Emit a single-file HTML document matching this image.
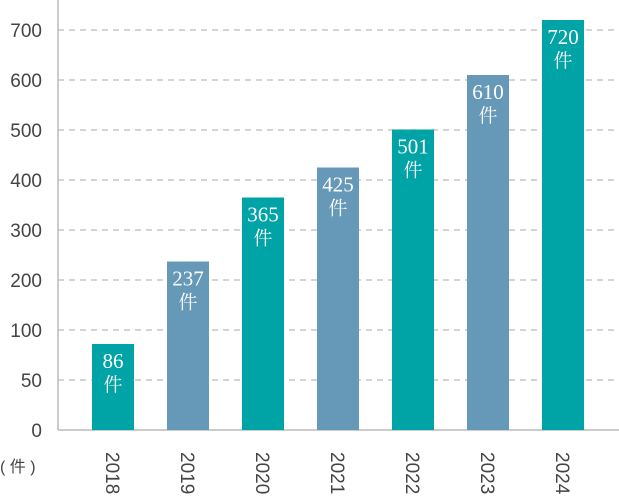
<!DOCTYPE html>
<html><head><meta charset="utf-8"><style>
body{margin:0;background:#fff;width:619px;height:504px;overflow:hidden}
svg{display:block}
</style></head><body>
<svg id="chart" width="619" height="504" xmlns="http://www.w3.org/2000/svg"></svg>
<script>
const categories=["2018","2019","2020","2021","2022","2023","2024"];
const values=[86,237,365,425,501,610,720];
const tickValues=[0,50,100,200,300,400,500,600,700];
const colors=["#00a3a6","#6699b8"];
const svg=document.getElementById('chart');
const NS="http://www.w3.org/2000/svg";
const base=430;
function y(v){return v<=100? base-v : base-100-(v-100)*0.5;}
function x(i){return 92+i*75;}
const bw=42;
function mk(t,a,txt){const e=document.createElementNS(NS,t);for(const k in a)e.setAttribute(k,a[k]);if(txt!==undefined)e.textContent=txt;svg.appendChild(e);return e;}
tickValues.forEach(v=>{
  if(v>0){const g=mk('line',{x1:58,x2:619,y1:y(v),y2:y(v),stroke:'#bbb','stroke-width':1.2,'stroke-dasharray':'6,5'});
  
  }
  const t=mk('text',{x:42,y:y(v)+7,'text-anchor':'end','font-family':'Liberation Sans, sans-serif','font-size':19,fill:'#444'},String(v));
  
  
});
const ax=mk('line',{x1:58,x2:58,y1:0,y2:base,stroke:'#bbb','stroke-width':1.5});


const bx=mk('line',{x1:58,x2:619,y1:base,y2:base,stroke:'#bbb','stroke-width':1.5});


values.forEach((v,i)=>{
  const r=mk('rect',{x:x(i),y:y(v),width:bw,height:base-y(v),fill:colors[i%2]});
  
  
  const cx=x(i)+bw/2;
  const t=mk('text',{x:cx,y:y(v)+24,'text-anchor':'middle','font-family':'Liberation Serif, Noto Serif CJK SC, serif','font-size':21,fill:'#fff'},String(v));
  
  
  const u=mk('text',{x:cx,y:y(v)+47,'text-anchor':'middle','font-family':'Noto Serif CJK SC, serif','font-size':19,fill:'#fff'},'件');
  
  
  const c=mk('text',{x:0,y:0,transform:`translate(${cx-7},452) rotate(90)`,'font-family':'Liberation Sans, sans-serif','font-size':19,fill:'#444'},categories[i]);
  
  
});
const un=mk('text',{x:0,y:472,'font-family':'Liberation Sans, Noto Sans CJK JP, sans-serif','font-size':16,fill:'#444'},'( 件 )');


</script>
</body></html>
